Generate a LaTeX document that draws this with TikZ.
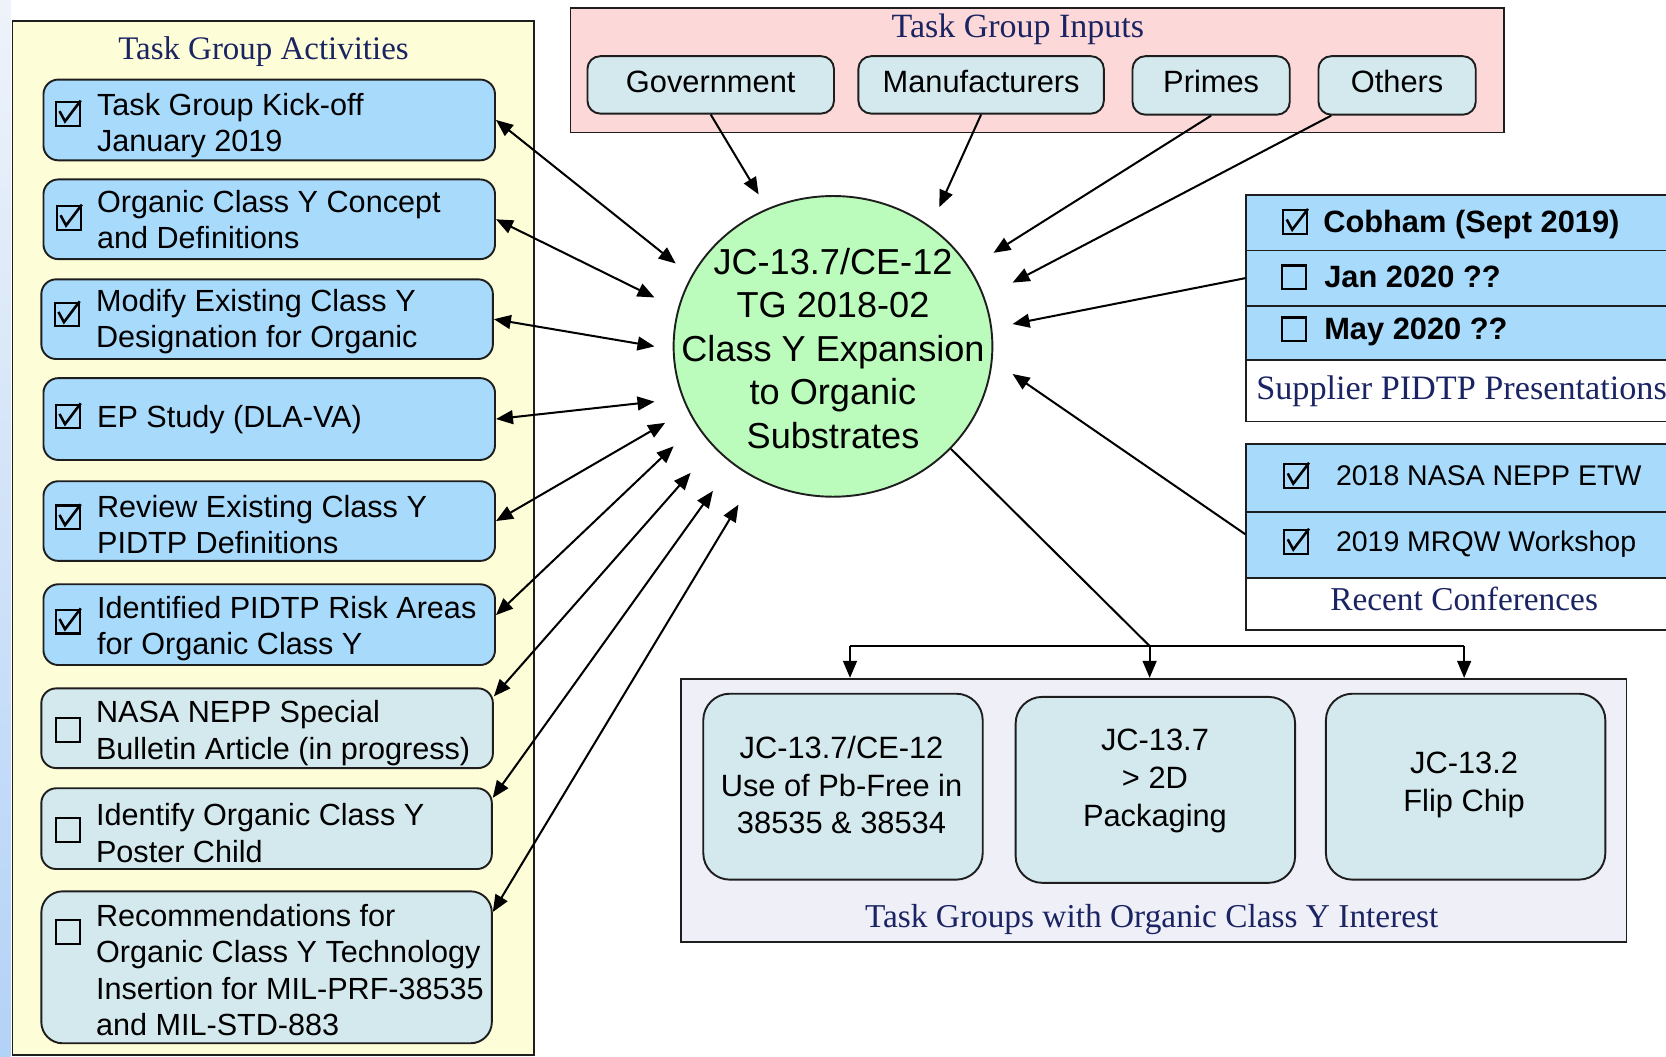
\documentclass[tikz,border=0pt]{standalone}
\usepackage{fontspec}
\setmainfont{Liberation Sans}
\newfontfamily\titlefont{Liberation Serif}
\usetikzlibrary{arrows.meta,shapes.geometric,calc}

\definecolor{navy}{HTML}{1B2463}
\definecolor{yel}{HTML}{FDFDD7}
\definecolor{pinkbg}{HTML}{FDD8D8}
\definecolor{skyb}{HTML}{A8DAFC}
\definecolor{paleb}{HTML}{D4E9EE}
\definecolor{grn}{HTML}{BBFBBB}
\definecolor{lav}{HTML}{EFEFF8}
\definecolor{edge}{HTML}{1E1E1E}
\definecolor{stripT}{HTML}{EEF3F9}
\definecolor{stripB}{HTML}{B3D2F7}

\tikzset{
  chkon/.pic={\draw[line width=1pt] (-5.6pt,-5.6pt) rectangle (5.6pt,5.6pt);
              \draw[line width=1.2pt,line join=miter] (-4pt,1.2pt) -- (-1.4pt,-3.6pt) -- (6pt,6.2pt);},
  chkoff/.pic={\draw[line width=1.1pt] (-5.6pt,-5.6pt) rectangle (5.6pt,5.6pt);}
}

\begin{document}
\begin{tikzpicture}[x=0.5pt,y=-0.5pt,
  panel/.style={draw=edge,line width=0.8pt,inner sep=0pt,anchor=north west},
  actbox/.style={draw=edge,line width=0.9pt,rounded corners=7pt,inner sep=0pt,anchor=north west,minimum width=212.5pt},
  acttext/.style={anchor=west,align=left,inner sep=0pt,font=\fontsize{14.4}{17}\selectfont},
  inbox/.style={draw=edge,line width=0.9pt,rounded corners=6pt,fill=paleb,inner sep=0pt,anchor=north west,
                text height=10.4pt,text depth=3.4pt,font=\fontsize{14.5}{17}\selectfont},
  tgbox/.style={draw=edge,line width=0.9pt,rounded corners=12.5pt,fill=paleb,inner sep=0pt,anchor=north west,minimum width=131.5pt,minimum height=87.5pt},
  tgtext/.style={align=center,inner sep=0pt,font=\fontsize{14.5}{17.75}\selectfont},
  rowbox/.style={draw=edge,line width=0.8pt,inner sep=0pt,anchor=north west,minimum width=210pt},
  rowtext/.style={anchor=west,inner sep=0pt},
  ttl/.style={font=\titlefont\fontsize{15.7}{18}\selectfont,text=navy,inner sep=0pt},
  arr/.style={line width=0.95pt,-{Triangle[length=8pt,width=6.5pt]}},
  darr/.style={line width=0.95pt,{Triangle[length=8pt,width=6.5pt]}-{Triangle[length=8pt,width=6.5pt]}},
  ln/.style={line width=0.95pt},
  ]
\useasboundingbox (0,0) rectangle (1568,994);
\clip (0,0) rectangle (1568,994);
\fill[white] (0,0) rectangle (1568,994);
\shade[top color=stripT,bottom color=stripB] (0,0) rectangle (10,994);

% ---------- Task Group Activities ----------
\node[panel,fill=yel,minimum width=245.5pt,minimum height=486.5pt] (act) at (11,19) {};
\node[ttl,font=\titlefont\fontsize{15.5}{18}\selectfont] (actT) at (248,49) {Task Group Activities};

\node[actbox,fill=skyb,minimum height=38pt] (b1) at (40,74) {};
\node[acttext] (t1) at (91,118) {Task Group Kick-off\\January 2019};
\pic at (64,107) {chkon};

\node[actbox,fill=skyb,minimum height=37.5pt] (b2) at (40,168) {};
\node[acttext] (t2) at (91,207) {Organic Class Y Concept\\and Definitions};
\pic at (65,205) {chkon};

\node[actbox,fill=skyb,minimum height=37.5pt] (b3) at (38,262) {};
\node[acttext] (t3) at (90,303) {Modify Existing Class Y\\Designation for Organic};
\pic at (63,296) {chkon};

\node[actbox,fill=skyb,minimum height=38.5pt] (b4) at (40,355) {};
\node[acttext] (t4) at (91,395) {EP Study (DLA-VA)};
\pic at (64,392) {chkon};

\node[actbox,fill=skyb,minimum height=37.5pt] (b5) at (40,452) {};
\node[acttext] (t5) at (91,494) {Review Existing Class Y\\PIDTP Definitions};
\pic at (64,487) {chkon};

\node[actbox,fill=skyb,minimum height=38pt] (b6) at (40,549) {};
\node[acttext] (t6) at (91,592) {Identified PIDTP Risk Areas\\for Organic Class Y};
\pic at (64,585) {chkon};

\node[actbox,fill=paleb,minimum height=37.5pt] (b7) at (38,647) {};
\node[acttext] (t7) at (90,690) {NASA NEPP Special\\Bulletin Article (in progress)};
\pic at (64,687) {chkoff};

\node[actbox,fill=paleb,minimum height=38pt,minimum width=212pt] (b8) at (38,741) {};
\node[acttext] (t8) at (90,784) {Identify Organic Class Y\\Poster Child};
\pic at (64,781) {chkoff};

\node[actbox,fill=paleb,minimum height=71.5pt,minimum width=212pt,rounded corners=10pt] (b9) at (38,838) {};
\node[acttext] (t9) at (90,913) {Recommendations for\\Organic Class Y Technology\\Insertion for MIL-PRF-38535\\and MIL-STD-883};
\pic at (64,877) {chkoff};

% ---------- Task Group Inputs ----------
\node[panel,fill=pinkbg,minimum width=439.5pt,minimum height=58.5pt] (inp) at (536,7) {};
\node[ttl,font=\titlefont\fontsize{16}{18}\selectfont] (inpT) at (958,28) {Task Group Inputs};
\node[inbox,minimum width=116pt,minimum height=27pt] (gov) at (552,52) {Government};
\node[inbox,minimum width=115.5pt,minimum height=27pt] (man) at (807,52) {Manufacturers};
\node[inbox,minimum width=74pt,minimum height=27.5pt] (pri) at (1065,52) {Primes};
\node[inbox,minimum width=74pt,minimum height=27.5pt] (oth) at (1240,52) {Others};

% ---------- Central circle ----------
\node[ellipse,draw=edge,line width=0.9pt,fill=grn,minimum width=150pt,minimum height=141.5pt,inner sep=0pt] (c) at (784,326) {};
\node[align=center,inner sep=0pt,font=\fontsize{17}{20.5}\selectfont] (ct) at (784,328)
  {JC-13.7/CE-12\\TG 2018-02\\Class Y Expansion\\to Organic\\Substrates};

% ---------- Supplier PIDTP Presentations ----------
\node[rowbox,fill=skyb,minimum height=26pt] (s1) at (1172,183) {};
\node[rowbox,fill=skyb,minimum height=26pt] (s2) at (1172,235) {};
\node[rowbox,fill=skyb,minimum height=25.5pt] (s3) at (1172,287) {};
\node[rowbox,fill=white,minimum height=29pt] (s4) at (1172,338) {};
\pic at (1219,209) {chkon};
\node[rowtext,font=\bfseries\fontsize{14.5}{17}\selectfont] (s1t) at (1245,211) {Cobham (Sept 2019)};
\pic at (1218,261) {chkoff};
\node[rowtext,font=\bfseries\fontsize{14.5}{17}\selectfont] (s2t) at (1246,261) {Jan 2020 ??};
\pic at (1218,310) {chkoff};
\node[rowtext,font=\bfseries\fontsize{14.5}{17}\selectfont] (s3t) at (1246,312) {May 2020 ??};
\node[ttl,anchor=west,font=\titlefont\fontsize{16.1}{18}\selectfont] (s4t) at (1182,368) {Supplier PIDTP Presentations};

% ---------- Recent Conferences ----------
\node[rowbox,fill=skyb,minimum height=32pt] (r1) at (1172,417) {};
\node[rowbox,fill=skyb,minimum height=31pt] (r2) at (1172,481) {};
\node[rowbox,fill=white,minimum height=24.5pt] (r3) at (1172,543) {};
\pic at (1220,448) {chkon};
\node[rowtext,font=\fontsize{13.4}{16}\selectfont] (r1t) at (1257,448) {2018 NASA NEPP ETW};
\pic at (1220,510) {chkon};
\node[rowtext,font=\fontsize{13.4}{16}\selectfont] (r2t) at (1257,512) {2019 MRQW Workshop};
\node[ttl] (r3t) at (1378,564) {Recent Conferences};

% ---------- Task Groups with Organic Class Y Interest ----------
\node[panel,fill=lav,minimum width=445pt,minimum height=124pt] (bp) at (640,638) {};
\node[ttl] (bpT) at (1084,865) {Task Groups with Organic Class Y Interest};
\node[tgbox] (g1) at (661,652) {};
\node[tgtext] (g1t) at (792,739) {JC-13.7/CE-12\\Use of Pb-Free in\\38535 \& 38534};
\node[tgbox] (g2) at (955,655) {};
\node[tgtext] (g2t) at (1087,735) {JC-13.7\\> 2D\\Packaging};
\node[tgbox] (g3) at (1247,652) {};
\node[tgtext] (g3t) at (1378,739) {JC-13.2\\Flip Chip};

% ---------- arrow end points near the circle ----------
\coordinate (k1) at (636,248);
\coordinate (k2) at (616,280);
\coordinate (k3) at (616,326);
\coordinate (k4) at (616,378);
\coordinate (k5) at (626,398);
\coordinate (k6) at (634,420);
\coordinate (k7) at (650,445);
\coordinate (k8) at (671,462);
\coordinate (k9) at (695,475);
\coordinate (kg) at (714,183);
\coordinate (km) at (884,195);
\coordinate (kp) at (935,238);
\coordinate (ko) at (953,266);
\coordinate (ks) at (953,305);
\coordinate (kr) at (953,352);
\coordinate (j) at (1082,608);
\coordinate (dl) at (800,608);
\coordinate (dr) at (1378,608);

% ---------- connectors ----------
\draw[darr] (b1.east) -- (k1);
\draw[darr] (b2.east) -- (k2);
\draw[darr] (b3.east) -- (k3);
\draw[darr] (b4.east) -- (k4);
\draw[darr] (b5.east) -- (k5);
\draw[darr] ([yshift=4.5pt]b6.east) -- (k6);
\draw[darr] ([yshift=15pt]b7.east) -- (k7);
\draw[darr] ([yshift=14.5pt]b8.east) -- (k8);
\draw[darr] ([yshift=26pt]b9.east) -- (k9);

\draw[arr] (gov.south) -- (kg);
\draw[arr] (man.south) -- (km);
\draw[arr] (pri.south) -- (kp);
\draw[arr] ([xshift=-31pt]oth.south) -- (ko);
\draw[arr] (s2.west) -- (ks);
\draw[arr] ([yshift=5pt]r2.west) -- (kr);

\draw[ln] (c.-41) -- (j);
\draw[ln] (dl) -- (dr);
\draw[arr] (dl) -- (dl |- bp.north);
\draw[arr] (j) -- (j |- bp.north);
\draw[arr] (dr) -- (dr |- bp.north);
\end{tikzpicture}
\end{document}
